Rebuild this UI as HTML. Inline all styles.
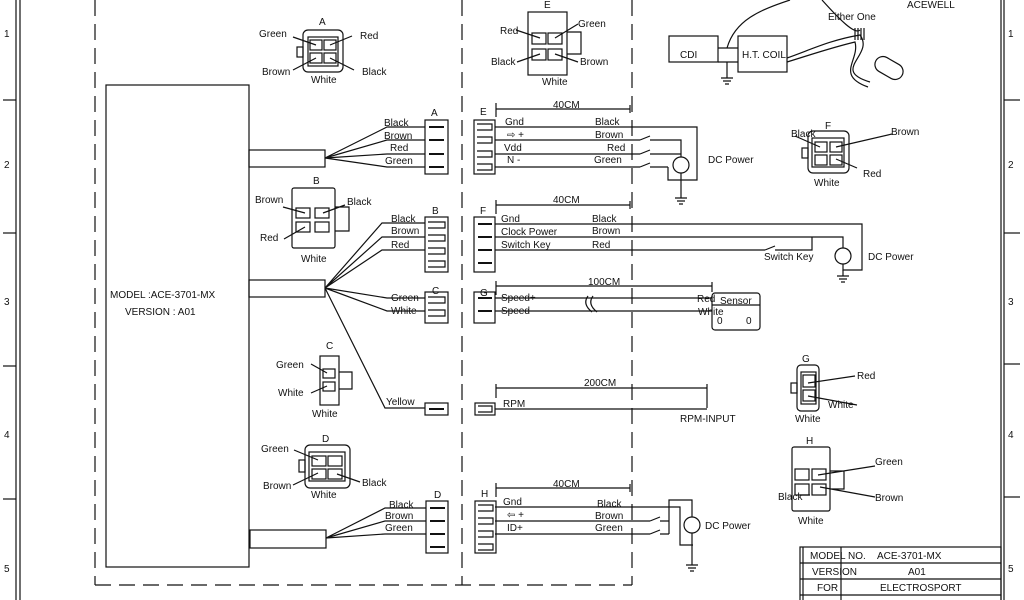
<!DOCTYPE html>
<html><head><style>
html,body{margin:0;padding:0;background:#fff;}
svg{display:block;}
text{font-family:"Liberation Sans",sans-serif;font-size:10px;fill:#111;}
</style></head><body>
<svg width="1024" height="600" viewBox="0 0 1024 600" xmlns="http://www.w3.org/2000/svg">
<rect width="1024" height="600" fill="#fff"/>
<g stroke="#111" stroke-width="1.2" fill="none">
<line x1="16" y1="0" x2="16" y2="600"/><line x1="20" y1="0" x2="20" y2="600"/>
<line x1="3" y1="100" x2="16" y2="100"/><line x1="3" y1="233" x2="16" y2="233"/><line x1="3" y1="366" x2="16" y2="366"/><line x1="3" y1="499" x2="16" y2="499"/>
<line x1="1001" y1="0" x2="1001" y2="600"/><line x1="1004" y1="0" x2="1004" y2="600"/>
<line x1="1004" y1="100" x2="1020" y2="100"/><line x1="1004" y1="233" x2="1020" y2="233"/><line x1="1004" y1="364" x2="1020" y2="364"/><line x1="1004" y1="497" x2="1020" y2="497"/>
<g stroke-dasharray="16,8">
<line x1="95" y1="0" x2="95" y2="585"/><line x1="95" y1="585" x2="632" y2="585"/><line x1="462" y1="0" x2="462" y2="585"/><line x1="632" y1="0" x2="632" y2="585"/>
</g>
<rect x="106" y="85" width="143" height="482"/>
<rect x="249" y="150" width="76" height="17"/>
<path d="M325 158 L387 127 H425 M325 158 L387 140 H425 M325 158 L387 154 H425 M325 158 L387 167 H425"/>
<rect x="425" y="120" width="23" height="54"/>
<path d="M429 127h15M429 140h15M429 154h15M429 167h15" stroke-width="2"/>
<rect x="249" y="280" width="76" height="17"/>
<path d="M325 288 L382 223 H425 M325 288 L382 237 H425 M325 288 L382 250 H425 M325 288 L387 298 H425 M325 288 L387 311 H425 M325 288 L385 408 H425"/>
<rect x="425" y="217" width="23" height="55"/>
<path d="M428 222h17v6h-17M428 235h17v6h-17M428 248h17v6h-17M428 261h17v6h-17"/>
<rect x="425" y="292" width="23" height="31"/>
<path d="M428 297h17v6h-17M428 310h17v6h-17"/>
<rect x="425" y="403" width="23" height="12"/><line x1="429" y1="409" x2="444" y2="409" stroke-width="2"/>
<rect x="250" y="530" width="76" height="18"/>
<path d="M326 538 L385 508 H426 M326 538 L385 521 H426 M326 538 L385 534 H426"/>
<rect x="426" y="501" width="22" height="52"/>
<path d="M430 508h15M430 521h15M430 534h15M430 547h15" stroke-width="2"/>
<rect x="474" y="120" width="21" height="54"/>
<path d="M477 124h15v6h-15M477 137h15v6h-15M477 151h15v6h-15M477 164h15v6h-15"/>
<rect x="474" y="217" width="21" height="55"/>
<path d="M478 224h14M478 237h14M478 250h14M478 263h14" stroke-width="2"/>
<rect x="474" y="292" width="21" height="31"/>
<path d="M478 298h14M478 311h14" stroke-width="2"/>
<rect x="475" y="403" width="20" height="12"/><path d="M478 406h14v6h-14"/>
<rect x="475" y="501" width="21" height="52"/>
<path d="M478 505h15v6h-15M478 518h15v6h-15M478 531h15v6h-15M478 544h15v6h-15"/>
<path d="M496 103v14M496 109h134M630 105v8"/>
<path d="M495 127H697V180H668V167 M495 140H640 M650 140H681V157 M495 154H640 M650 154H681 M495 167H640 M650 167H668"/>
<path d="M640 140l10 -4M640 154l10-4M640 167l10-4"/>
<circle cx="681" cy="165" r="8"/><path d="M681 173V198M675 198h12M677 201h8M679 204h4"/>
<path d="M496 200v14M496 205h134M630 201v8"/>
<path d="M495 224H862V270H843V264 M495 237H812V248 M495 250H765 M775 250H812V237 M812 237H843V248"/>
<path d="M765 250l10-4"/>
<circle cx="843" cy="256" r="8"/><path d="M843 270V276M837 276h12M839 279h8M841 282h4"/>
<path d="M496 281v14M496 286h216M712 282v10M495 298H712M495 311H712"/>
<path d="M588 296q-6 8 4 16M593 296q-6 8 4 16"/>
<rect x="712" y="293" width="48" height="37" rx="3"/><line x1="712" y1="305" x2="760" y2="305"/>
<path d="M496 384v14M496 388h211M707 384v24M495 409H707"/>
<path d="M496 483v14M496 488h134M630 484v8"/>
<path d="M495 507H680V545H693 M495 521H650 M660 521H669V534 M495 534H650 M660 534H669 M669 521V534 M669 521V500H692V517 M692 533V545 M692 545V565"/>
<path d="M650 521l10-4M650 534l10-4"/>
<circle cx="692" cy="525" r="8"/><path d="M686 565h12M688 568h8M690 571h4"/>
<rect x="303" y="30" width="40" height="42" rx="5"/><rect x="308" y="37" width="30" height="29"/>
<rect x="310" y="40" width="12" height="10"/><rect x="324" y="40" width="12" height="10"/><rect x="310" y="53" width="12" height="10"/><rect x="324" y="53" width="12" height="10"/>
<rect x="297" y="47" width="6" height="10"/>
<path d="M293 37L316 45M352 36L330 45M293 70L316 58M354 70L330 58"/>
<rect x="528" y="12" width="39" height="63"/>
<rect x="532" y="33" width="14" height="11"/><rect x="548" y="33" width="14" height="11"/><rect x="532" y="49" width="14" height="11"/><rect x="548" y="49" width="14" height="11"/>
<path d="M567 32h14v22h-14"/>
<path d="M516 30L540 38M578 24L555 38M517 62L540 54M578 62L555 54"/>
<rect x="292" y="188" width="43" height="60" rx="2"/>
<rect x="296" y="208" width="14" height="10"/><rect x="315" y="208" width="14" height="10"/><rect x="296" y="222" width="14" height="10"/><rect x="315" y="222" width="14" height="10"/>
<path d="M335 207h14v24h-14M283 207L305 213M345 205L323 213M284 239L305 227"/>
<rect x="320" y="356" width="19" height="49"/><rect x="323" y="369" width="12" height="9"/><rect x="323" y="382" width="12" height="9"/>
<path d="M339 372h13v17h-13M311 364L327 373M311 393L327 386"/>
<rect x="305" y="445" width="45" height="43" rx="5"/><rect x="309" y="452" width="36" height="29"/>
<rect x="312" y="456" width="14" height="10"/><rect x="328" y="456" width="14" height="10"/><rect x="312" y="469" width="14" height="10"/><rect x="328" y="469" width="14" height="10"/>
<rect x="299" y="460" width="6" height="12"/>
<path d="M294 450L318 460M293 485L318 473M360 482L337 474"/>
<rect x="808" y="131" width="41" height="42" rx="5"/><rect x="812" y="138" width="32" height="29"/>
<rect x="815" y="142" width="12" height="10"/><rect x="830" y="142" width="12" height="10"/><rect x="815" y="155" width="12" height="10"/><rect x="830" y="155" width="12" height="10"/>
<rect x="802" y="148" width="6" height="10"/>
<path d="M795 136L820 147M892 134L836 147M857 168L836 159"/>
<rect x="797" y="365" width="22" height="46" rx="4"/><rect x="801" y="372" width="15" height="32"/>
<rect x="803" y="375" width="12" height="12"/><rect x="803" y="390" width="12" height="11"/><rect x="791" y="383" width="6" height="10"/>
<path d="M855 376L808 383M857 405L808 396"/>
<rect x="792" y="447" width="38" height="64" rx="2"/>
<rect x="795" y="469" width="14" height="11"/><rect x="812" y="469" width="14" height="11"/><rect x="795" y="484" width="14" height="11"/><rect x="812" y="484" width="14" height="11"/>
<path d="M830 471h14v18h-14M875 466L818 475M810 495L800 495M875 497L820 487"/>
<rect x="669" y="36" width="49" height="26"/><rect x="738" y="36" width="49" height="36"/>
<path d="M718 48H738M718 62H738M727 62V78M721 78h12M723 81h8M725 84h4"/>
<path d="M727 48C735 20 760 10 790 0M822 0C840 20 855 35 860 30M787 58C810 50 830 40 860 35C875 55 830 70 870 82M787 62C810 55 830 48 855 42C860 60 835 75 868 87"/>
<rect x="874" y="60" width="30" height="16" rx="8" transform="rotate(30 889 68)"/>
<path d="M855 28v12M858 28v12M861 28v12M864 28v12"/>
<rect x="800" y="547" width="201" height="60"/><path d="M803 547V600M800 563H1001M800 579H1001M800 595H1001M841 547V600"/>
</g>
<text x="4" y="37" font-size="12">1</text><text x="4" y="168" font-size="12">2</text><text x="4" y="305" font-size="12">3</text><text x="4" y="438" font-size="12">4</text><text x="4" y="572" font-size="12">5</text>
<text x="1008" y="37" font-size="12">1</text><text x="1008" y="168" font-size="12">2</text><text x="1008" y="305" font-size="12">3</text><text x="1008" y="438" font-size="12">4</text><text x="1008" y="572" font-size="12">5</text>
<text x="110" y="298" font-size="11">MODEL :ACE-3701-MX</text><text x="125" y="315" font-size="11">VERSION : A01</text>
<text x="384" y="126">Black</text><text x="384" y="139">Brown</text><text x="390" y="151">Red</text><text x="385" y="164">Green</text><text x="431" y="116">A</text>
<text x="391" y="222">Black</text><text x="391" y="234">Brown</text><text x="391" y="248">Red</text><text x="432" y="214">B</text>
<text x="391" y="301">Green</text><text x="391" y="314">White</text><text x="432" y="294">C</text>
<text x="386" y="405">Yellow</text>
<text x="389" y="508">Black</text><text x="385" y="519">Brown</text><text x="385" y="531">Green</text><text x="434" y="498">D</text>
<text x="480" y="115">E</text><text x="480" y="214">F</text><text x="480" y="296">G</text><text x="481" y="497">H</text>
<text x="553" y="108">40CM</text><text x="505" y="125">Gnd</text><text x="507" y="138">⇨ +</text><text x="504" y="151">Vdd</text><text x="507" y="163">N -</text>
<text x="595" y="125">Black</text><text x="595" y="138">Brown</text><text x="607" y="151">Red</text><text x="594" y="163">Green</text><text x="708" y="163">DC Power</text>
<text x="553" y="203">40CM</text><text x="501" y="222">Gnd</text><text x="501" y="235">Clock Power</text><text x="501" y="248">Switch Key</text>
<text x="592" y="222">Black</text><text x="592" y="234">Brown</text><text x="592" y="248">Red</text><text x="764" y="260">Switch Key</text><text x="868" y="260">DC Power</text>
<text x="588" y="285">100CM</text><text x="501" y="301">Speed+</text><text x="501" y="314">Speed-</text><text x="697" y="302">Red</text><text x="698" y="315">White</text>
<text x="720" y="304" font-size="9">Sensor</text><text x="717" y="324" font-size="14">0</text><text x="746" y="324" font-size="14">0</text>
<text x="584" y="386">200CM</text><text x="503" y="407">RPM</text><text x="680" y="422">RPM-INPUT</text>
<text x="553" y="487">40CM</text><text x="503" y="505">Gnd</text><text x="507" y="518">⇦ +</text><text x="507" y="531">ID+</text>
<text x="597" y="507">Black</text><text x="595" y="519">Brown</text><text x="595" y="531">Green</text><text x="705" y="529">DC Power</text>
<text x="319" y="25">A</text><text x="259" y="37">Green</text><text x="360" y="39">Red</text><text x="262" y="75">Brown</text><text x="362" y="75">Black</text><text x="311" y="83">White</text>
<text x="544" y="8">E</text><text x="500" y="34">Red</text><text x="578" y="27">Green</text><text x="491" y="65">Black</text><text x="580" y="65">Brown</text><text x="542" y="85">White</text>
<text x="313" y="184">B</text><text x="255" y="203">Brown</text><text x="347" y="205">Black</text><text x="260" y="241">Red</text><text x="301" y="262">White</text>
<text x="326" y="349">C</text><text x="276" y="368">Green</text><text x="278" y="396">White</text><text x="312" y="417">White</text>
<text x="322" y="442">D</text><text x="261" y="452">Green</text><text x="263" y="489">Brown</text><text x="362" y="486">Black</text><text x="311" y="498">White</text>
<text x="825" y="129">F</text><text x="791" y="137">Black</text><text x="891" y="135">Brown</text><text x="863" y="177">Red</text><text x="814" y="186">White</text>
<text x="802" y="362">G</text><text x="857" y="379">Red</text><text x="828" y="408">White</text><text x="795" y="422">White</text>
<text x="806" y="444">H</text><text x="875" y="465">Green</text><text x="778" y="500">Black</text><text x="875" y="501">Brown</text><text x="798" y="524">White</text>
<text x="680" y="58" font-size="18">CDI</text><text x="742" y="58" font-size="8">H.T. COIL</text>
<text x="907" y="8" font-size="11">ACEWELL</text><text x="828" y="20" font-size="8">Either One</text>
<text x="810" y="559" font-size="8">MODEL NO.</text><text x="877" y="559">ACE-3701-MX</text>
<text x="812" y="575" font-size="8">VERSION</text><text x="908" y="575">A01</text>
<text x="817" y="591" font-size="8">FOR</text><text x="880" y="591">ELECTROSPORT</text>
</svg>
</body></html>
